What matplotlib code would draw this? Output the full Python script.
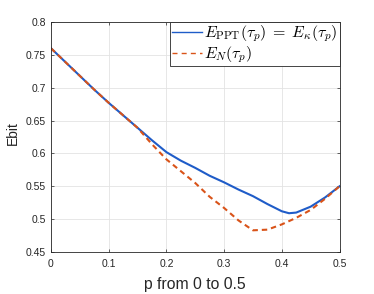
import matplotlib
matplotlib.use("Agg")
import matplotlib.pyplot as plt

# values
p = [0.0, 0.025, 0.05, 0.075, 0.1, 0.125, 0.15, 0.175, 0.2, 0.225, 0.25,
     0.275, 0.3, 0.325, 0.35, 0.375, 0.4, 0.4125, 0.425, 0.45, 0.475, 0.5]
e_ppt = [0.760, 0.739, 0.718, 0.697, 0.677, 0.658, 0.639, 0.620, 0.602, 0.589, 0.578,
         0.566, 0.556, 0.545, 0.535, 0.523, 0.512, 0.509, 0.510, 0.519, 0.533, 0.550]
e_n = [0.760, 0.739, 0.718, 0.697, 0.677, 0.658, 0.639, 0.614, 0.591, 0.573, 0.555,
       0.534, 0.517, 0.498, 0.483, 0.484, 0.492, 0.497, 0.502, 0.514, 0.531, 0.550]

xticks = [0, 0.1, 0.2, 0.3, 0.4, 0.5]
xticklabels = ["0", "0.1", "0.2", "0.3", "0.4", "0.5"]
yticks = [0.45, 0.5, 0.55, 0.6, 0.65, 0.7, 0.75, 0.8]
yticklabels = ["0.45", "0.5", "0.55", "0.6", "0.65", "0.7", "0.75", "0.8"]

plt.rcParams["font.family"] = ["Liberation Sans", "DejaVu Sans"]
plt.rcParams["mathtext.fontset"] = "cm"

dark = "#262626"
fig = plt.figure(figsize=(3.74, 2.94), dpi=100)
ax = fig.add_axes([51 / 374, 42 / 294, 288.5 / 374, 230 / 294])

ax.plot(p, e_ppt, color="#1f5cc8", lw=1.5,
        label=r"$E_{\rm PPT}(\tau_p)\;=\;E_\kappa(\tau_p)$")
ax.plot(p, e_n, color="#D95319", lw=1.5, dashes=(2.6, 1.9),
        label=r"$E_N(\tau_p)$")

ax.set_xlim(0, 0.5)
ax.set_ylim(0.45, 0.8)
ax.set_xticks(xticks)
ax.set_xticklabels(xticklabels)
ax.set_yticks(yticks)
ax.set_yticklabels(yticklabels)
ax.grid(True, color="#e3e3e3", lw=0.6)
ax.set_axisbelow(True)
ax.tick_params(direction="in", length=2.2, width=0.5, colors=dark,
               labelsize=7.5, top=True, right=True)
ax.tick_params(axis="x", pad=5)
ax.tick_params(axis="y", pad=3.5)
for s in ax.spines.values():
    s.set_color(dark)
    s.set_linewidth(0.6)

ax.set_xlabel("p from 0 to 0.5", fontsize=11.3, color=dark)
ax.xaxis.label.set_va("center")
ax.xaxis.set_label_coords(0.5, (252 - 285) / 230)
ax.set_ylabel("Ebit", fontsize=10, color=dark)
ax.yaxis.label.set_va("center")
ax.yaxis.set_label_coords((13 - 51) / 288.5, (252 - 133) / 230)

leg = ax.legend(loc="upper right", fontsize=11.5, borderaxespad=0,
                fancybox=False, framealpha=1, edgecolor=dark,
                handlelength=1.9, handletextpad=0.12, borderpad=0.1,
                labelspacing=0.0)
leg.get_frame().set_linewidth(0.6)
handles = leg.get_lines()
for h in handles:
    h.set_linewidth(1.0)
handles[1].set_dashes((3.6, 3.0))

fig.savefig("out.png", dpi=100)
